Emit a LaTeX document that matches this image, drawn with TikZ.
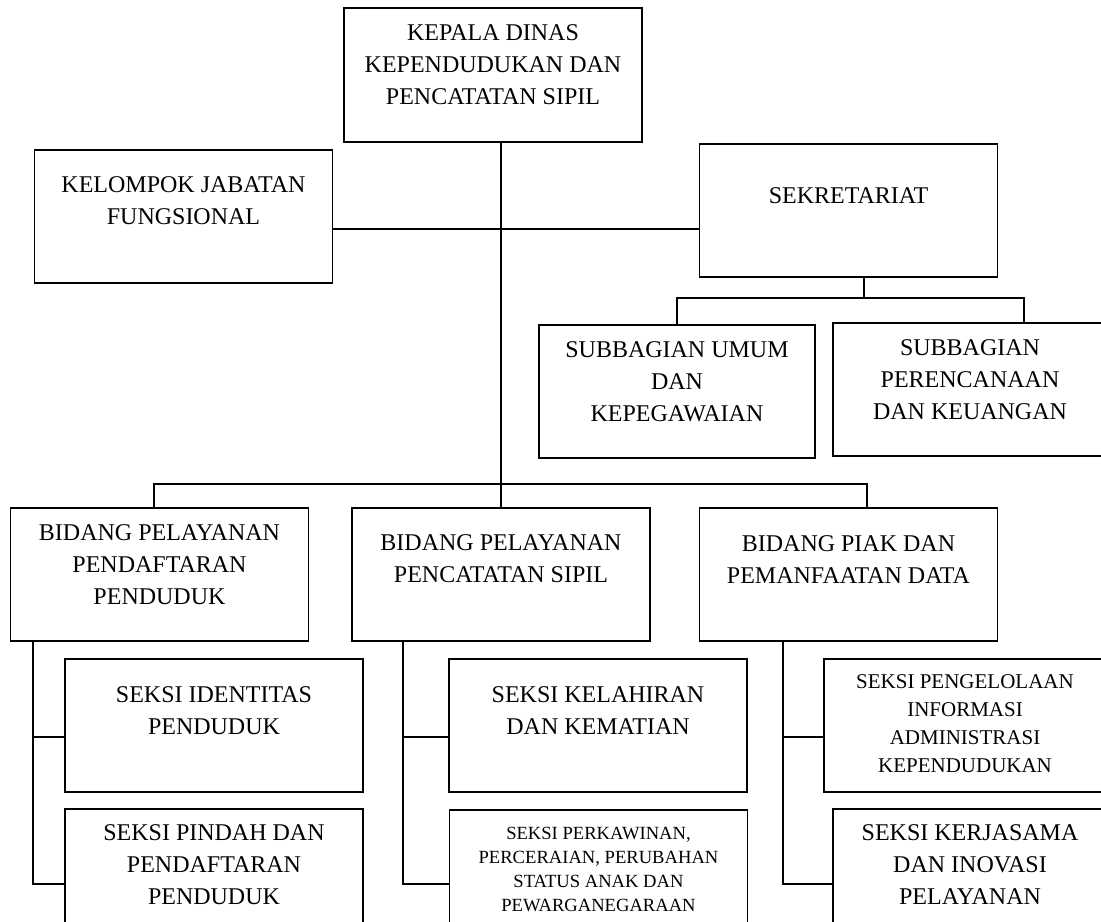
\documentclass[tikz,border=0pt]{standalone}
\usepackage{fontspec}
\setmainfont{Liberation Serif}
\usetikzlibrary{positioning}

\begin{document}
\begin{tikzpicture}[
  x=0.5pt, y=-0.5pt,
  line width=0.75pt,
  box/.style={draw, line width=0.9pt, minimum width=149pt, minimum height=66.5pt, inner sep=0pt},
  txt/.style={align=center, inner sep=0pt, font=\fontsize{12}{16}\selectfont},
  smalltxt/.style={align=center, inner sep=0pt, font=\fontsize{9.3}{12}\selectfont},
  node distance=8.5pt
]
\useasboundingbox (0,0) rectangle (1101,921);
\clip (0,0) rectangle (1101,921);

% boxes
\node[box, minimum height=67pt] (kepala) at (493,75) {};
\node[box] (kelompok) at (183.5,216.5) {};
\node[box] (sekre) at (848.5,210.5) {};
\node[box, minimum width=138pt] (umum) at (677,391.5) {};
\node[box, minimum width=137pt] (renc) at (970,389.5) {};
\node[box] (pendaf) at (159.5,574.5) {};
\node[box] (catat) at (501,574.5) {};
\node[box] (piak) at (848.5,574.5) {};
\node[box] (ident) at (214,725.5) {};
\node[box] (pindah) at (214,875.5) {};
\node[box] (lahir) at (598,725.5) {};
\node[box] (kawin) at (598.5,876.5) {};
\node[box, minimum width=141pt] (kelola) at (965,725.5) {};
\node[box, minimum width=137pt] (kerja) at (970,875.5) {};

% texts
\node[txt, below=8.5pt of kepala.north] (kepalat) {KEPALA DINAS\\KEPENDUDUKAN DAN\\PENCATATAN SIPIL};
\node[txt, below=13.5pt of kelompok.north] (kelompokt) {KELOMPOK JABATAN\\FUNGSIONAL};
\node[txt, below=22pt of sekre.north] (sekret) {SEKRETARIAT};
\node[txt, below=8.5pt of umum.north] (umumt) {SUBBAGIAN UMUM\\DAN\\KEPEGAWAIAN};
\node[txt, below=8.5pt of renc.north] (renct) {SUBBAGIAN\\PERENCANAAN\\DAN KEUANGAN};
\node[txt, below=8.5pt of pendaf.north] (pendaft) {BIDANG PELAYANAN\\PENDAFTARAN\\PENDUDUK};
\node[txt, below=13.5pt of catat.north] (catatt) {BIDANG PELAYANAN\\PENCATATAN SIPIL};
\node[txt, below=14pt of piak.north] (piakt) {BIDANG PIAK DAN\\PEMANFAATAN DATA};
\node[txt, below=14pt of ident.north] (identt) {SEKSI IDENTITAS\\PENDUDUK};
\node[txt, below=8pt of pindah.north] (pindaht) {SEKSI PINDAH DAN\\PENDAFTARAN\\PENDUDUK};
\node[txt, below=14pt of lahir.north] (lahirt) {SEKSI KELAHIRAN\\DAN KEMATIAN};
\node[smalltxt, below=8.5pt of kawin.north] (kawint) {SEKSI PERKAWINAN,\\PERCERAIAN, PERUBAHAN\\STATUS ANAK DAN\\PEWARGANEGARAAN};
\node[smalltxt, font=\fontsize{10.5}{14}\selectfont, below=8pt of kelola.north] (kelolat) {SEKSI PENGELOLAAN\\INFORMASI\\ADMINISTRASI\\KEPENDUDUKAN};
\node[txt, below=8pt of kerja.north] (kerjat) {SEKSI KERJASAMA\\DAN INOVASI\\PELAYANAN};

% connectors
\coordinate (mid) at (501,229);
\coordinate (sbus) at (864,298);
\coordinate (rdrop) at (1024,298);
\coordinate (bl) at (154,484);
\coordinate (br) at (867,484);

\draw (catat.north |- kepala.south) -- (catat.north);
\draw (kelompok.east |- mid) -- (sekre.west |- mid);
\draw (sekre.south -| sbus) -- (sbus);
\draw (umum.north) -- (umum.north |- sbus) -- (rdrop) -- (rdrop |- renc.north);
\draw (bl |- pendaf.north) -- (bl) -- (br) -- (br |- piak.north);

\coordinate (a1) at (33,737);
\coordinate (a2) at (33,884);
\coordinate (b1) at (403,737);
\coordinate (b2) at (403,884);
\coordinate (c1) at (783,737);
\coordinate (c2) at (783,884);

\draw (pendaf.south -| a1) -- (a2) -- (a2 -| pindah.west);
\draw (a1) -- (a1 -| ident.west);
\draw (catat.south -| b1) -- (b2) -- (b2 -| kawin.west);
\draw (b1) -- (b1 -| lahir.west);
\draw (piak.south -| c1) -- (c2) -- (c2 -| kerja.west);
\draw (c1) -- (c1 -| kelola.west);
\end{tikzpicture}
\end{document}
